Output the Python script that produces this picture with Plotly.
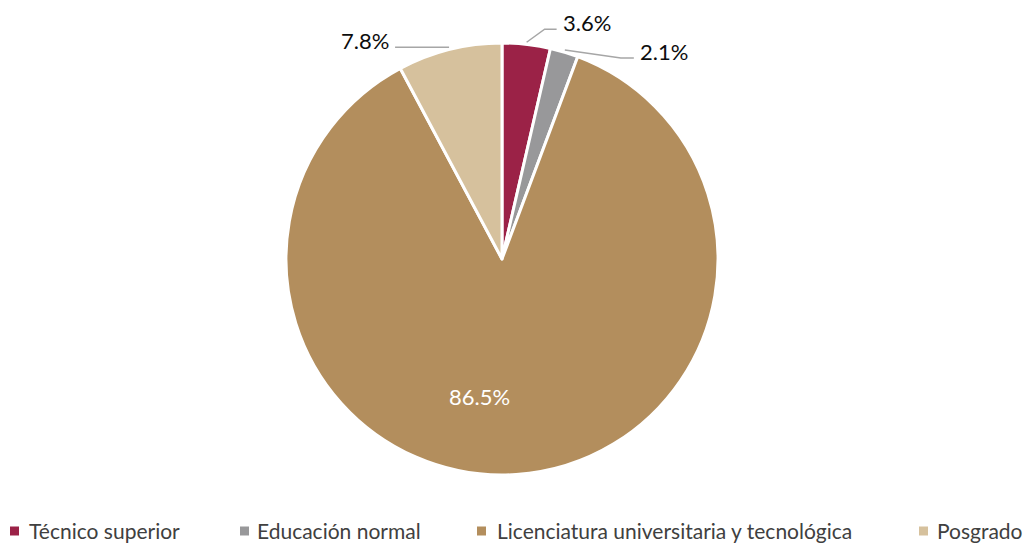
import math
import plotly.graph_objects as go

categories = ["Técnico superior", "Educación normal", "Licenciatura universitaria y tecnológica", "Posgrado"]
values = [3.6, 2.1, 86.5, 7.8]
colors = ["#9B2247", "#98989A", "#B38E5D", "#D6C19D"]

# ---- layout / style (not data) ----
label_inside = [False, False, True, False]
label_colors = ["#0D0D0D", "#0D0D0D", "#FFFFFF", "#0D0D0D"]
# leader geometry in px: (elbow dx, elbow dy, end dx, end dy) relative to slice edge point
leader = [(18, -13, 30, -13), (56, 8, 69, 8), None, (0, 0, -54, 0)]
label_radius_inside = 0.715
label_angle_shift_inside = 12  # degrees
legend_marker_x = [10, 240, 477, 919]   # page px
legend_text_x = [27, 255, 495, 935]     # page px
legend_y = 531                          # page px

OFF = 8  # browser body margin
W, H = 1024, 536
ML, MR, MT, MB = 0, 0, 35, 69
DOM_X = [0, 0.96484]
DOM_Y = [0, 1]
PW, PH = W - ML - MR, H - MT - MB

cx = ML + PW * (DOM_X[0] + DOM_X[1]) / 2
cy = MT + PH * (1 - (DOM_Y[0] + DOM_Y[1]) / 2)
R = min(PW * (DOM_X[1] - DOM_X[0]), PH * (DOM_Y[1] - DOM_Y[0])) / 2


def to_paper(px, py):
    return (px - ML) / PW, (H - MB - py) / PH


def page_to_paper(px, py):
    return to_paper(px - OFF, py - OFF)


fig = go.Figure(go.Pie(
    labels=categories,
    values=values,
    sort=False,
    direction="clockwise",
    rotation=0,
    marker=dict(colors=colors, line=dict(color="white", width=3)),
    textinfo="none",
    domain=dict(x=DOM_X, y=DOM_Y),
    hoverinfo="label+percent",
    showlegend=False,
))

total = sum(values)
cum = 0
shapes = []
annotations = []
for i, v in enumerate(values):
    mid = (cum + v / 2) / total * 360
    cum += v
    pct = f"{v / total * 100:.1f}%"
    if label_inside[i]:
        a = math.radians(mid + label_angle_shift_inside)
        px = cx + R * label_radius_inside * math.sin(a)
        py = cy - R * label_radius_inside * math.cos(a)
        xp, yp = to_paper(px, py)
        annotations.append(dict(x=xp, y=yp, xref="paper", yref="paper", text=pct,
                                showarrow=False,
                                font=dict(family="Lato", size=22, color=label_colors[i])))
        continue
    a = math.radians(mid)
    ex = cx + R * 1.01 * math.sin(a)
    ey = cy - R * 1.01 * math.cos(a)
    g = leader[i]
    bx, by = ex + g[0], ey + g[1]
    tx, ty = ex + g[2], ey + g[3]
    pts = [to_paper(ex, ey), to_paper(bx, by), to_paper(tx, ty)]
    path = "M {} {} L {} {} L {} {}".format(*[c for p in pts for c in p])
    shapes.append(dict(type="path", xref="paper", yref="paper", path=path,
                       line=dict(color="#A6A6A6", width=1.5)))
    right = g[2] > 0
    lx, ly = to_paper(tx + (4 if right else -4), ty - 7)
    annotations.append(dict(x=lx, y=ly, xref="paper", yref="paper", text=pct,
                            xanchor="left" if right else "right", yanchor="middle",
                            showarrow=False,
                            font=dict(family="Lato", size=22, color=label_colors[i])))

# manual legend (one row, Excel-like spacing)
for i, name in enumerate(categories):
    x0, y0 = page_to_paper(legend_marker_x[i], legend_y - 4.5)
    x1, y1 = page_to_paper(legend_marker_x[i] + 9, legend_y + 4.5)
    shapes.append(dict(type="rect", xref="paper", yref="paper", x0=x0, x1=x1, y0=y0, y1=y1,
                       fillcolor=colors[i], line=dict(width=0)))
    tx, ty = page_to_paper(legend_text_x[i], legend_y - 1)
    annotations.append(dict(x=tx, y=ty, xref="paper", yref="paper", text=name,
                            xanchor="left", yanchor="middle", showarrow=False,
                            font=dict(family="Lato", size=21, color="#404040")))

fig.update_layout(
    width=W, height=H,
    margin=dict(l=ML, r=MR, t=MT, b=MB),
    paper_bgcolor="white",
    plot_bgcolor="white",
    font=dict(family="Lato", size=20, color="#404040"),
    shapes=shapes,
    annotations=annotations,
    showlegend=False,
)

fig.write_html("out.html")
